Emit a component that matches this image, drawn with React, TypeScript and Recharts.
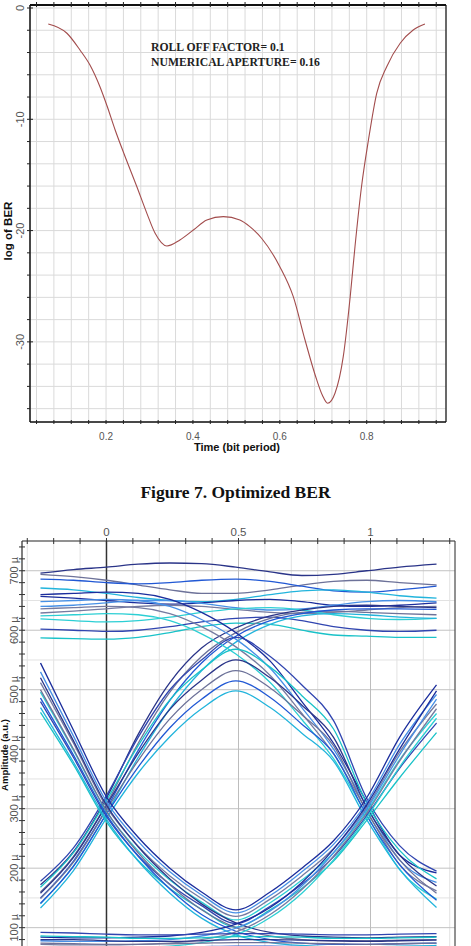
import React from 'react';
import { LineChart, Line, XAxis, YAxis, CartesianGrid, ReferenceLine } from 'recharts';

// ---- Figure 7: optimized BER ----
const berTime = [0.067, 0.11, 0.14, 0.163, 0.186, 0.203, 0.221, 0.244, 0.271, 0.294, 0.313, 0.34, 0.37, 0.401, 0.432, 0.47, 0.508, 0.531, 0.558, 0.6, 0.631, 0.658, 0.685, 0.698, 0.71, 0.727, 0.746, 0.762, 0.773, 0.788, 0.804, 0.823, 0.846, 0.877, 0.907, 0.934];
const berLog = [-1.44, -2.27, -3.77, -5.12, -7.07, -8.87, -10.96, -13.36, -16.06, -18.45, -20.24, -21.38, -20.84, -19.95, -19.05, -18.75, -19.05, -19.65, -20.69, -23.24, -25.94, -29.83, -33.42, -34.8, -35.52, -34.62, -31.33, -25.94, -21.45, -16.06, -11.86, -7.66, -5.27, -3.17, -1.98, -1.44];
const berXTicks = [0.04, 0.08, 0.12, 0.16, 0.2, 0.24, 0.28, 0.32, 0.36, 0.4, 0.44, 0.48, 0.52, 0.56, 0.6, 0.64, 0.68, 0.72, 0.76, 0.8, 0.84, 0.88, 0.92, 0.96];
const berXLabels = [0.2, 0.4, 0.6, 0.8];
const berYTicks = [-36, -34, -32, -30, -28, -26, -24, -22, -20, -18, -16, -14, -12, -10, -8, -6, -4, -2, 0];
const berYLabels = [0, -10, -20, -30];

// ---- eye diagram (amplitude in µ) ----
const eyeT = [-0.25, -0.125, 0, 0.12, 0.24, 0.36, 0.49, 0.62, 0.74, 0.86, 0.985, 1.11, 1.25];
const highRail = [
  [696, 702, 706, 711, 713, 712, 706, 698, 692, 694, 700, 706, 711],
  [694, 690, 684, 676, 668, 662, 662, 668, 676, 682, 684, 680, 676],
  [686, 684, 680, 678, 680, 684, 686, 682, 674, 666, 664, 668, 674],
  [671, 668, 662, 655, 650, 648, 652, 660, 666, 668, 664, 658, 654],
  [657, 654, 650, 646, 644, 646, 650, 652, 648, 642, 640, 642, 646],
  [640, 642, 646, 650, 650, 645, 638, 634, 636, 642, 648, 650, 648],
  [629, 632, 636, 640, 642, 640, 635, 630, 628, 630, 634, 638, 640],
  [619, 616, 614, 616, 622, 630, 636, 638, 634, 626, 620, 618, 620],
  [602, 600, 598, 600, 606, 614, 620, 622, 616, 606, 600, 598, 600],
  [587, 586, 585, 588, 596, 606, 612, 610, 600, 592, 590, 588, 588],
];
const riseToHigh = [
  [172, 228, 318, 425, 512, 570, 604, 624, 634, 640, 642, 640, 638],
  [160, 220, 308, 410, 496, 556, 596, 620, 630, 632, 630, 628, 626],
  [150, 212, 300, 398, 482, 545, 590, 616, 628, 634, 636, 636, 635],
  [140, 204, 292, 386, 468, 532, 580, 610, 624, 628, 626, 622, 620],
];
const highToFall = [
  [660, 662, 664, 662, 652, 630, 596, 548, 480, 410, 312, 222, 192],
  [648, 650, 652, 650, 640, 618, 585, 536, 470, 400, 304, 214, 176],
  [636, 638, 640, 638, 628, 606, 572, 524, 460, 392, 297, 206, 162],
  [624, 626, 628, 626, 616, 594, 560, 512, 450, 384, 290, 198, 148],
];
const hill = [
  [178, 234, 322, 420, 500, 550, 588, 556, 508, 448, 318, 238, 195],
  [168, 226, 314, 406, 483, 533, 568, 538, 490, 434, 310, 230, 182],
  [158, 218, 306, 393, 467, 516, 550, 520, 474, 420, 303, 222, 170],
  [149, 210, 298, 381, 451, 500, 532, 503, 458, 406, 296, 214, 158],
  [141, 203, 291, 370, 436, 484, 515, 487, 442, 393, 289, 206, 146],
  [133, 196, 284, 360, 421, 468, 498, 470, 427, 380, 282, 198, 134],
];
const dip = [
  [545, 432, 320, 252, 200, 160, 130, 160, 200, 246, 318, 420, 508],
  [530, 422, 312, 245, 194, 155, 125, 154, 194, 240, 310, 408, 492],
  [512, 410, 303, 237, 187, 149, 119, 148, 187, 233, 302, 395, 476],
  [496, 398, 295, 229, 180, 143, 113, 142, 180, 226, 295, 382, 460],
  [480, 386, 287, 221, 173, 137, 107, 136, 173, 219, 288, 368, 444],
  [462, 374, 278, 213, 166, 131, 101, 130, 166, 212, 280, 352, 428],
];
const fallToLow = [
  [520, 414, 306, 236, 182, 140, 108, 92, 86, 84, 83, 84, 85],
  [500, 400, 296, 226, 172, 130, 100, 86, 80, 78, 78, 79, 80],
  [486, 390, 290, 220, 165, 122, 94, 80, 74, 72, 72, 73, 74],
  [470, 378, 282, 212, 158, 116, 88, 75, 70, 68, 68, 69, 70],
];
const lowToRise = [
  [84, 83, 83, 84, 86, 92, 106, 134, 176, 232, 306, 400, 498],
  [78, 77, 77, 78, 80, 86, 99, 128, 170, 226, 299, 390, 484],
  [72, 71, 71, 72, 74, 80, 93, 122, 164, 220, 292, 380, 468],
  [66, 66, 66, 67, 69, 75, 88, 117, 158, 214, 285, 370, 452],
];
const lowRail = [
  [92, 91, 89, 88, 88, 89, 90, 90, 89, 88, 88, 89, 90],
  [86, 85, 84, 82, 82, 83, 85, 85, 84, 82, 82, 83, 84],
  [80, 80, 78, 77, 77, 78, 80, 80, 79, 78, 77, 78, 79],
  [74, 73, 72, 72, 73, 74, 75, 75, 74, 73, 72, 73, 74],
  [68, 67, 66, 66, 67, 68, 69, 69, 68, 67, 66, 67, 68],
  [61, 60, 60, 61, 62, 62, 63, 62, 61, 60, 60, 61, 61],
];
const eyeXTicks = [-0.3, -0.2, -0.1, 0, 0.1, 0.2, 0.3, 0.4, 0.5, 0.6, 0.7, 0.8, 0.9, 1, 1.1, 1.2, 1.3];
const eyeXLabels = [0, 0.5, 1];
const eyeYTicks = [-20, 0, 20, 40, 60, 80, 100, 120, 140, 160, 180, 200, 220, 240, 260, 280, 300, 320, 340, 360, 380, 400, 420, 440, 460, 480, 500, 520, 540, 560, 580, 600, 620, 640, 660, 680, 700, 720, 740];
const eyeYLabels = [100, 200, 300, 400, 500, 600, 700];
const eyeGridY = [0, 50, 150, 250, 350, 450, 550, 650, 750];

const eyeColors = ['#2a3488', '#6d7299', '#2158d4', '#22b4dc', '#1b2d9c', '#4790e6', '#767ba0', '#2ccfd4', '#3045b0', '#19c2c8'];

const SANS = 'Liberation Sans, Arial, sans-serif';
const SERIF = 'Liberation Serif, Times New Roman, serif';

const isIn = (list: number[], v: number) => list.some((l) => Math.abs(l - v) < 1e-6);

const berData = berTime.map((t, i) => ({ t, v: berLog[i] }));
const eyeTraces = [...highRail, ...riseToHigh, ...highToFall, ...hill, ...dip, ...fallToLow, ...lowToRise, ...lowRail];
const eyeData = eyeT.map((t, i) => {
  const row: Record<string, number> = { t };
  eyeTraces.forEach((tr, k) => {
    row[`s${k}`] = tr[i];
  });
  return row;
});

// eye chart geometry (for the horizontal grid)
const EYE_TOP = 41;
const EYE_H = 464;
const EYE_MIN = -30;
const EYE_MAX = 750;
const eyeY = (v: number) => EYE_TOP + ((EYE_MAX - v) / (EYE_MAX - EYE_MIN)) * EYE_H;

// ---- tick renderers ----
const BerBottomTick = ({ x, y, payload }: any) => {
  const major = isIn(berXLabels, payload.value);
  return (
    <g>
      <line x1={x} x2={x} y1={y - 2} y2={y + 2} stroke="#222" />
      {major && (
        <text x={x} y={y + 18} textAnchor="middle" fontSize={10} fill="#555" fontFamily={SANS}>
          {payload.value}
        </text>
      )}
    </g>
  );
};

const BerTopTick = ({ x, y }: any) => <line x1={x} x2={x} y1={y - 3} y2={y + 2} stroke="#222" />;

const BerLeftTick = ({ x, y, payload }: any) => {
  const major = isIn(berYLabels, payload.value);
  return (
    <g>
      <line x1={x - 3} x2={major ? x + 3 : x} y1={y} y2={y} stroke="#222" />
      {major && (
        <text x={x - 10} y={y} transform={`rotate(-90 ${x - 10} ${y})`} textAnchor="middle" dominantBaseline="central" fontSize={11} fill="#555" fontFamily={SANS}>
          {payload.value}
        </text>
      )}
    </g>
  );
};

const BerRightTick = ({ x, y, payload }: any) => {
  const major = isIn(berYLabels, payload.value);
  return (
    <g>
      <line x1={major ? x - 3 : x} x2={x + 2} y1={y} y2={y} stroke="#222" />
      {major && (
        <text x={x + 12} y={y} transform={`rotate(-90 ${x + 12} ${y})`} textAnchor="middle" dominantBaseline="central" fontSize={11} fill="#555" fontFamily={SANS}>
          {payload.value}
        </text>
      )}
    </g>
  );
};

const EyeTopTick = ({ x, y, payload }: any) => {
  const major = isIn(eyeXLabels, payload.value);
  return (
    <g>
      <line x1={x} x2={x} y1={y - 3} y2={y + 3} stroke="#333" />
      {major && (
        <text x={x} y={y - 5} textAnchor="middle" fontSize={11.5} fill="#555" fontFamily={SANS}>
          {payload.value}
        </text>
      )}
    </g>
  );
};

const EyeLeftTick = ({ x, y, payload }: any) => {
  const major = isIn(eyeYLabels, payload.value);
  return (
    <g>
      <line x1={x - 3} x2={x + 3} y1={y} y2={y} stroke="#333" />
      {major && (
        <text x={x - 8} y={y} transform={`rotate(-90 ${x - 8} ${y})`} textAnchor="middle" dominantBaseline="central" fontSize={11} fill="#555" fontFamily={SANS}>
          {`${payload.value} µ`}
        </text>
      )}
    </g>
  );
};

const EyeRightTick = ({ x, y, payload }: any) => {
  const major = isIn(eyeYLabels, payload.value);
  return (
    <g>
      <line x1={x - 3} x2={x + 2} y1={y} y2={y} stroke="#333" />
      {major && (
        <text x={x + 12} y={y} transform={`rotate(-90 ${x + 12} ${y})`} textAnchor="middle" dominantBaseline="central" fontSize={11.5} fill="#555" fontFamily={SANS}>
          {(payload.value / 1e6).toFixed(4)}
        </text>
      )}
    </g>
  );
};

const rotatedLabel = (text: string, cx: number, cy: number, size: number) => (
  <div
    style={{
      position: 'absolute',
      left: cx - 60,
      top: cy - 7,
      width: 120,
      height: 14,
      lineHeight: '14px',
      textAlign: 'center',
      transform: 'rotate(-90deg)',
      fontFamily: SANS,
      fontWeight: 'bold',
      fontSize: size,
      color: '#111',
    }}
  >
    {text}
  </div>
);

export default function App() {
  return (
    <div style={{ position: 'absolute', left: 0, top: 0, width: 471, height: 946, overflow: 'hidden', background: '#fff' }}>
      {/* BER chart */}
      <div style={{ position: 'absolute', left: 0, top: 0 }}>
        <LineChart width={471} height={460} data={berData} margin={{ top: 0, right: 0, bottom: 0, left: 0 }}>
          <CartesianGrid stroke="#dadada" strokeWidth={1} />
          <XAxis
            dataKey="t"
            type="number"
            domain={[0.025, 0.9825]}
            ticks={berXTicks}
            interval={0}
            height={38}
            tickSize={0}
            tickMargin={0}
            tick={<BerBottomTick />}
            axisLine={{ stroke: '#111', strokeWidth: 1.5 }}
          />
          <XAxis
            xAxisId="top"
            orientation="top"
            dataKey="t"
            type="number"
            domain={[0.025, 0.9825]}
            ticks={berXTicks}
            interval={0}
            height={5}
            tickSize={0}
            tickMargin={0}
            tick={<BerTopTick />}
            axisLine={{ stroke: '#111', strokeWidth: 2 }}
          />
          <YAxis
            type="number"
            domain={[-37.2, 0.27]}
            ticks={berYTicks}
            interval={0}
            width={30}
            tickSize={0}
            tickMargin={0}
            tick={<BerLeftTick />}
            axisLine={{ stroke: '#111', strokeWidth: 1.5 }}
          />
          <YAxis
            yAxisId="right"
            orientation="right"
            type="number"
            domain={[-37.2, 0.27]}
            ticks={berYTicks}
            interval={0}
            width={25}
            tickSize={0}
            tickMargin={0}
            tick={<BerRightTick />}
            axisLine={{ stroke: '#111', strokeWidth: 1.2 }}
          />
          <Line type="monotone" dataKey="v" stroke="#a24c4c" strokeWidth={1.1} dot={false} isAnimationActive={false} />
        </LineChart>
      </div>
      {rotatedLabel('log of BER', 8, 231, 11.5)}
      <div style={{ position: 'absolute', left: 137, top: 441, width: 200, textAlign: 'center', fontFamily: SANS, fontWeight: 'bold', fontSize: 11, color: '#111' }}>
        Time (bit period)
      </div>
      <div style={{ position: 'absolute', left: 151, top: 40, fontFamily: SERIF, fontWeight: 'bold', fontSize: 11.7, lineHeight: '15px', color: '#222', whiteSpace: 'nowrap' }}>
        <div>ROLL OFF FACTOR= 0.1</div>
        <div>NUMERICAL APERTURE= 0.16</div>
      </div>
      <div style={{ position: 'absolute', left: 0, top: 482, width: 471, textAlign: 'center', fontFamily: SERIF, fontWeight: 'bold', fontSize: 17.5, color: '#111' }}>
        Figure 7. Optimized BER
      </div>

      {/* eye diagram */}
      <div style={{ position: 'absolute', left: 0, top: 500 }}>
        <LineChart width={471} height={560} data={eyeData} margin={{ top: 0, right: 0, bottom: 55, left: 0 }}>
          <CartesianGrid stroke="#e2e2e2" horizontalPoints={eyeGridY.map(eyeY)} />
          {eyeYLabels.map((v) => (
            <ReferenceLine key={`h${v}`} y={v} stroke="#c2c2c2" />
          ))}
          <ReferenceLine x={0.5} stroke="#bdbdbd" />
          <ReferenceLine x={1} stroke="#bdbdbd" />
          <ReferenceLine x={0} stroke="#333" strokeWidth={1.5} />
          <XAxis
            dataKey="t"
            type="number"
            orientation="top"
            domain={[-0.32, 1.32]}
            ticks={eyeXTicks}
            interval={0}
            height={EYE_TOP}
            tickSize={0}
            tickMargin={0}
            tick={<EyeTopTick />}
            axisLine={{ stroke: '#333', strokeWidth: 1.2 }}
          />
          <YAxis
            type="number"
            domain={[EYE_MIN, EYE_MAX]}
            ticks={eyeYTicks}
            interval={0}
            width={22}
            tickSize={0}
            tickMargin={0}
            tick={<EyeLeftTick />}
            axisLine={{ stroke: '#333', strokeWidth: 1.2 }}
          />
          <YAxis
            yAxisId="right"
            orientation="right"
            type="number"
            domain={[EYE_MIN, EYE_MAX]}
            ticks={eyeYTicks}
            interval={0}
            width={16}
            tickSize={0}
            tickMargin={0}
            tick={<EyeRightTick />}
            axisLine={{ stroke: '#333', strokeWidth: 1 }}
          />
          {eyeTraces.map((_, k) => (
            <Line
              key={k}
              type="monotone"
              dataKey={`s${k}`}
              stroke={eyeColors[k % eyeColors.length]}
              strokeWidth={1.3}
              dot={false}
              isAnimationActive={false}
            />
          ))}
        </LineChart>
      </div>
      {rotatedLabel('Amplitude (a.u.)', 5, 755, 9.5)}
    </div>
  );
}
